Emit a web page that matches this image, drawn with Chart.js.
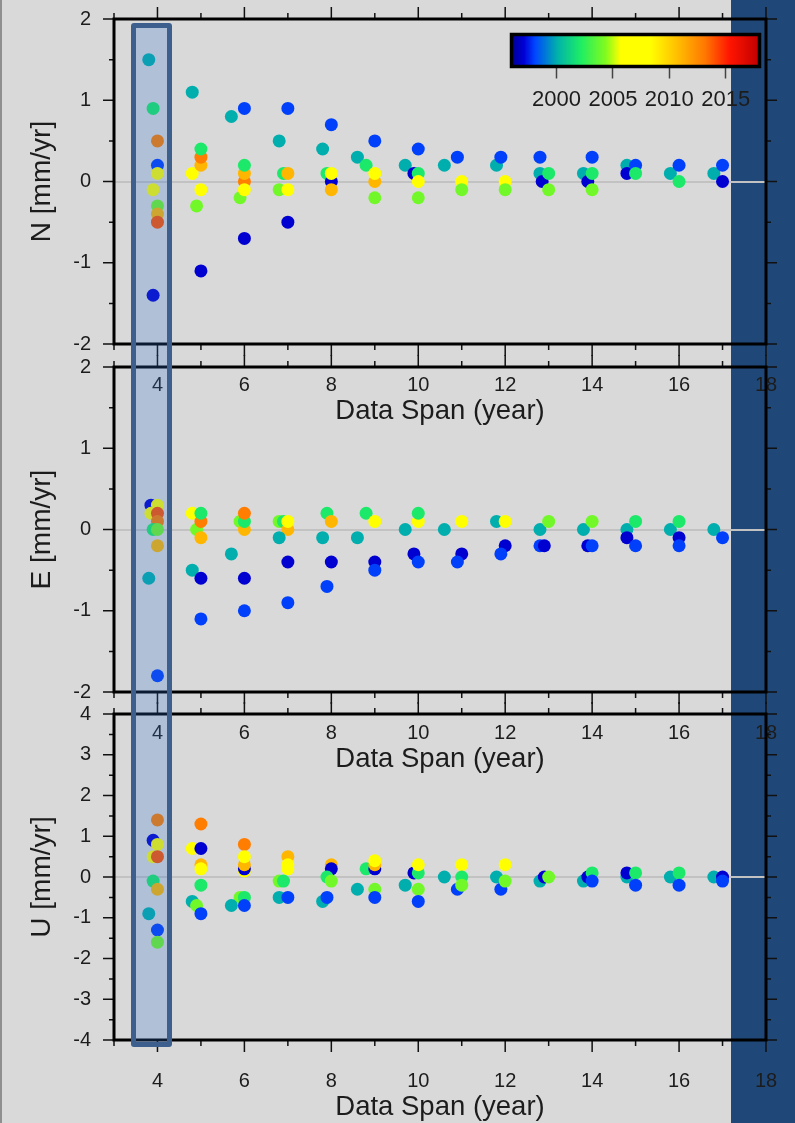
<!DOCTYPE html>
<html>
<head>
<meta charset="utf-8">
<script src="https://cdn.jsdelivr.net/npm/chart.js@4.4.1/dist/chart.umd.min.js"></script>
<style>
  html, body { margin: 0; padding: 0; }
  body { width: 795px; height: 1123px; background: #d9d9d9; position: relative; overflow: hidden; }
  canvas { position: absolute; left: 0; }
  #edge { position: absolute; left: 0; top: 0; width: 2px; height: 1123px; background: #8f8f8f; }
  #band { position: absolute; left: 731px; top: 0; width: 64px; height: 1123px; background: #1f4878; }
  #win { position: absolute; left: 131px; top: 23px; width: 41px; height: 1024px; box-sizing: border-box;
         border: 5px solid #3c5f8e; border-radius: 3px; background: rgba(44, 111, 204, 0.24); }
</style>
</head>
<body>
<div id="edge"></div>
<div id="band"></div>
<canvas id="cN" width="795" height="428" style="top:0px"></canvas>
<canvas id="cE" width="795" height="426" style="top:350px"></canvas>
<canvas id="cU" width="795" height="424" style="top:700px"></canvas>
<canvas id="cBar" width="315" height="100" style="left:480px;top:20px"></canvas>
<div id="win"></div>

<script>
// x axis (data span, years)
const xTicks = [4, 6, 8, 10, 12, 14, 16, 18];
const nTicks = [-2, -1, 0, 1, 2];
const uTicks = [-4, -3, -2, -1, 0, 1, 2, 3, 4];

// colour bar (start year)
const cbMin = 1996;
const cbMax = 2018;
const cbTicks = [2000, 2005, 2010, 2015];

// North
const nSpan = [3.8, 3.9, 4.0, 4.0, 4.0, 3.9, 4.0, 4.0, 4.0, 3.9,
  4.8, 4.8, 4.9, 5.0, 5.0, 5.0, 5.0, 5.0,
  5.7, 5.9, 6.0, 6.0, 6.0, 6.0, 6.0, 6.0,
  6.8, 6.8, 6.9, 7.0, 7.0, 7.0, 7.0,
  7.8, 7.9, 8.0, 8.0, 8.0, 8.0,
  8.6, 8.8, 9.0, 9.0, 9.0, 9.0,
  9.7, 9.9, 10.0, 10.0, 10.0, 10.0,
  10.6, 10.9, 11.0, 11.0,
  11.8, 11.9, 12.0, 12.0,
  12.8, 12.8, 12.85, 13.0, 13.0,
  13.8, 13.9, 14.0, 14.0, 14.0,
  14.8, 14.8, 15.0, 15.0,
  15.8, 16.0, 16.0,
  16.8, 17.0, 17.0];
const nRate = [1.5, 0.9, 0.5, 0.2, 0.1, -0.1, -0.3, -0.4, -0.5, -1.4,
  1.1, 0.1, -0.3, 0.2, 0.3, 0.4, -0.1, -1.1,
  0.8, -0.2, 0.9, 0.0, 0.1, 0.2, -0.1, -0.7,
  0.5, -0.1, 0.1, 0.9, 0.1, -0.1, -0.5,
  0.4, 0.1, 0.7, 0.0, 0.1, -0.1,
  0.3, 0.2, 0.5, 0.0, 0.1, -0.2,
  0.2, 0.1, 0.4, 0.1, 0.0, -0.2,
  0.2, 0.3, 0.0, -0.1,
  0.2, 0.3, 0.0, -0.1,
  0.3, 0.1, 0.0, 0.1, -0.1,
  0.1, 0.0, 0.3, 0.1, -0.1,
  0.2, 0.1, 0.2, 0.1,
  0.1, 0.2, 0.0,
  0.1, 0.2, 0.0];
const nYear = [2000, 2002, 2013, 1998, 2007, 2007, 2004, 2011, 2014, 1997,
  2000, 2007, 2004, 2011, 2013, 2002, 2007, 1997,
  2000, 2004, 1998, 2013, 2011, 2002, 2007, 1997,
  2000, 2004, 2002, 1998, 2011, 2007, 1997,
  2000, 2002, 1998, 1997, 2007, 2011,
  2000, 2002, 1998, 2011, 2007, 2004,
  2000, 1997, 1998, 2002, 2007, 2004,
  2000, 1998, 2007, 2004,
  2000, 1998, 2007, 2004,
  1998, 2000, 1997, 2002, 2004,
  2000, 1997, 1998, 2002, 2004,
  2000, 1997, 1998, 2002,
  2000, 1998, 2002,
  2000, 1998, 1997];

// East
const eSpan = [3.85, 3.85, 4.0, 4.0, 4.0, 3.9, 4.0, 4.0, 3.8, 4.0,
  4.8, 4.9, 5.0, 5.0, 5.0, 4.8, 5.0, 5.0,
  5.7, 5.9, 6.0, 6.0, 6.0, 6.0, 6.0,
  6.8, 6.9, 7.0, 7.0, 6.8, 7.0, 7.0,
  7.9, 8.0, 7.8, 8.0, 7.9,
  8.6, 8.8, 9.0, 9.0, 9.0,
  9.7, 9.9, 10.0, 10.0, 10.0,
  10.6, 11.0, 11.0, 10.9,
  11.8, 12.0, 12.0, 11.9,
  12.8, 13.0, 12.8, 12.9,
  13.8, 14.0, 13.9, 14.0,
  14.8, 15.0, 14.8, 15.0,
  15.8, 16.0, 16.0, 16.0,
  16.8, 17.0];
const eRate = [0.3, 0.2, 0.3, 0.2, 0.1, 0.0, 0.0, -0.2, -0.6, -1.8,
  0.2, 0.0, 0.1, 0.2, -0.1, -0.5, -0.6, -1.1,
  -0.3, 0.1, 0.0, 0.1, 0.2, -0.6, -1.0,
  0.1, 0.1, 0.0, 0.1, -0.1, -0.4, -0.9,
  0.2, 0.1, -0.1, -0.4, -0.7,
  -0.1, 0.2, 0.1, -0.4, -0.5,
  0.0, -0.3, -0.4, 0.1, 0.2,
  0.0, 0.1, -0.3, -0.4,
  0.1, 0.1, -0.2, -0.3,
  0.0, 0.1, -0.2, -0.2,
  0.0, 0.1, -0.2, -0.2,
  0.0, 0.1, -0.1, -0.2,
  0.0, 0.1, -0.1, -0.2,
  0.0, -0.1];
const eYear = [1997, 2007, 2007, 2014, 2013, 2002, 2004, 2011, 2000, 1998,
  2007, 2004, 2013, 2002, 2011, 2000, 1997, 1998,
  2000, 2004, 2011, 2002, 2013, 1997, 1998,
  2004, 2002, 2011, 2007, 2000, 1997, 1998,
  2002, 2011, 2000, 1997, 1998,
  2000, 2002, 2007, 1997, 1998,
  2000, 1997, 1998, 2007, 2002,
  2000, 2007, 1997, 1998,
  2000, 2007, 1997, 1998,
  2000, 2004, 1998, 1997,
  2000, 2004, 1997, 1998,
  2000, 2002, 1997, 1998,
  2000, 2002, 1997, 1998,
  2000, 1998];

// Up
const uSpan = [4.0, 3.9, 4.0, 3.9, 4.0, 3.9, 4.0, 3.8, 4.0, 4.0,
  5.0, 4.8, 5.0, 5.0, 5.0, 5.0, 4.8, 4.9, 5.0,
  6.0, 6.0, 6.0, 6.0, 6.0, 5.9, 6.0, 5.7, 6.0,
  7.0, 7.0, 7.0, 6.8, 6.9, 6.8, 7.0,
  8.0, 8.0, 7.9, 8.0, 7.8, 7.9,
  8.6, 8.8, 9.0, 9.0, 9.0, 9.0, 9.0,
  9.7, 9.9, 10.0, 10.0, 10.0, 10.0,
  10.6, 11.0, 11.0, 10.9, 11.0,
  11.8, 12.0, 11.9, 12.0,
  12.8, 12.9, 13.0,
  13.8, 13.9, 14.0, 14.0,
  14.8, 14.8, 15.0, 15.0,
  15.8, 16.0, 16.0,
  16.8, 17.0, 17.0];
const uRate = [1.4, 0.9, 0.8, 0.5, 0.5, -0.1, -0.3, -0.9, -1.3, -1.6,
  1.3, 0.7, 0.7, 0.3, 0.2, -0.2, -0.6, -0.7, -0.9,
  0.8, 0.15, 0.2, 0.3, 0.5, -0.5, -0.5, -0.7, -0.7,
  0.5, 0.3, 0.2, -0.1, -0.1, -0.5, -0.5,
  0.3, 0.2, 0.0, -0.1, -0.6, -0.5,
  -0.3, 0.2, 0.2, 0.3, 0.4, -0.3, -0.5,
  -0.2, 0.1, 0.1, 0.3, -0.3, -0.6,
  0.0, 0.3, 0.0, -0.3, -0.2,
  0.0, 0.3, -0.3, -0.1,
  -0.1, 0.0, 0.0,
  -0.1, 0.0, 0.1, -0.1,
  0.0, 0.1, 0.1, -0.2,
  0.0, 0.1, -0.2,
  0.0, 0.0, -0.1];
const uYear = [2013, 1997, 2007, 2007, 2014, 2002, 2011, 2000, 1998, 2004,
  2013, 2007, 1997, 2011, 2007, 2002, 2000, 2004, 1998,
  2013, 2007, 1997, 2011, 2007, 2004, 2002, 2000, 1998,
  2011, 2007, 2007, 2004, 2002, 2000, 1998,
  2011, 1997, 2002, 2004, 2000, 1998,
  2000, 2002, 1997, 2011, 2007, 2004, 1998,
  2000, 1997, 2002, 2007, 2004, 1998,
  2000, 2007, 2002, 1998, 2004,
  2000, 2007, 1998, 2004,
  2000, 1997, 2004,
  2000, 1997, 2002, 1998,
  2000, 1997, 2002, 1998,
  2000, 2002, 1998,
  2000, 1997, 1998];

// jet-like colour ramp used by the colour bar
const jetStops = [
  [0.00, [0, 0, 150]], [0.05, [0, 0, 215]], [0.095, [0, 70, 255]],
  [0.185, [0, 178, 170]], [0.28, [30, 238, 100]], [0.38, [130, 250, 30]],
  [0.44, [255, 255, 0]], [0.56, [255, 255, 0]], [0.67, [255, 190, 0]],
  [0.78, [255, 120, 0]], [0.88, [255, 20, 0]], [1.00, [190, 0, 0]]
];

function rampColor(f) {
  f = Math.max(0, Math.min(1, f));
  for (let i = 1; i < jetStops.length; i++) {
    const [p1, c1] = jetStops[i];
    const [p0, c0] = jetStops[i - 1];
    if (f <= p1) {
      const t = (f - p0) / (p1 - p0);
      const c = c0.map((v, k) => Math.round(v + (c1[k] - v) * t));
      return `rgb(${c[0]},${c[1]},${c[2]})`;
    }
  }
  return 'rgb(190,0,0)';
}
const yearColor = y => rampColor((y - cbMin) / (cbMax - cbMin));

Chart.defaults.font.family = '"Liberation Sans", Arial, Helvetica, sans-serif';
Chart.defaults.color = '#1c1c1c';

// stop label half-heights / paddings from pushing the plot area around
function noPad(s) {
  s.paddingTop = 0; s.paddingBottom = 0; s.paddingLeft = 0; s.paddingRight = 0;
}

// frame + outward ticks like the GMT plots
const framePlugin = {
  id: 'frame',
  afterDraw(chart) {
    const { ctx, chartArea: a, scales } = chart;
    const yS = scales.y, xS = scales.x;
    ctx.save();
    ctx.strokeStyle = '#111';
    ctx.lineWidth = 1.5;
    ctx.beginPath();
    for (let v = yS.min; v <= yS.max + 1e-9; v += 0.5) {
      const py = yS.getPixelForValue(v);
      const len = Math.abs(v - Math.round(v)) < 1e-6 ? 11 : 5;
      ctx.moveTo(a.left, py); ctx.lineTo(a.left - len, py);
      ctx.moveTo(a.right, py); ctx.lineTo(a.right + len, py);
    }
    for (let v = xS.min; v <= xS.max + 1e-9; v += 1) {
      const px = xS.getPixelForValue(v);
      const len = v % 2 === 0 ? 12 : 6;
      ctx.moveTo(px, a.top); ctx.lineTo(px, a.top - len);
      ctx.moveTo(px, a.bottom); ctx.lineTo(px, a.bottom + len);
    }
    ctx.stroke();
    ctx.lineWidth = 3;
    ctx.strokeStyle = '#000';
    ctx.strokeRect(a.left, a.top, a.right - a.left, a.bottom - a.top);
    ctx.restore();
  }
};

function makePanel(id, canvasTop, areaTop, span, rate, year, yMin, yMax, yTicks, yTitle) {
  return new Chart(document.getElementById(id), {
    type: 'scatter',
    data: {
      datasets: [{
        data: span.map((s, i) => ({ x: s, y: rate[i] })),
        pointBackgroundColor: year.map(yearColor),
        pointBorderWidth: 0,
        pointRadius: 6.5,
        pointHoverRadius: 6.5
      }]
    },
    options: {
      responsive: false,
      animation: false,
      events: [],
      layout: { padding: { left: 0, right: 29, top: areaTop - canvasTop, bottom: 0 } },
      plugins: { legend: { display: false }, tooltip: { enabled: false } },
      scales: {
        x: {
          type: 'linear', min: 3, max: 18,
          afterBuildTicks: s => { s.ticks = xTicks.map(v => ({ value: v })); },
          afterFit: s => { s.height = 84; noPad(s); },
          grid: { display: false },
          border: { display: false },
          ticks: { padding: 21.5, font: { size: 20 } },
          title: { display: true, text: 'Data Span (year)', font: { size: 27.5 }, padding: { top: 0, bottom: 0 } }
        },
        y: {
          type: 'linear', min: yMin, max: yMax,
          afterBuildTicks: s => { s.ticks = yTicks.map(v => ({ value: v })); },
          afterFit: s => { s.width = 114; noPad(s); },
          grid: {
            drawTicks: false,
            lineWidth: 2,
            color: c => (c.tick && c.tick.value === 0 ? '#c2c2c2' : 'rgba(0,0,0,0)')
          },
          border: { display: false },
          ticks: { padding: 23, font: { size: 20 } },
          title: { display: true, text: yTitle, font: { size: 28 }, padding: { top: 25, bottom: 0 } }
        }
      }
    },
    plugins: [framePlugin]
  });
}

makePanel('cN', 0, 19, nSpan, nRate, nYear, -2, 2, nTicks, 'N [mm/yr]');
makePanel('cE', 350, 367, eSpan, eRate, eYear, -2, 2, nTicks, 'E [mm/yr]');
makePanel('cU', 700, 714, uSpan, uRate, uYear, -4, 4, uTicks, 'U [mm/yr]');

// colour bar drawn on its own year axis
const barPlugin = {
  id: 'bar',
  beforeDraw(chart) {
    const { ctx, chartArea: a } = chart;
    const g = ctx.createLinearGradient(a.left, 0, a.right, 0);
    jetStops.forEach(([p, c]) => g.addColorStop(p, `rgb(${c[0]},${c[1]},${c[2]})`));
    ctx.save();
    ctx.fillStyle = g;
    ctx.fillRect(a.left, a.top, a.right - a.left, a.bottom - a.top);
    ctx.restore();
  },
  afterDraw(chart) {
    const { ctx, chartArea: a } = chart;
    ctx.save();
    ctx.lineWidth = 3.5;
    ctx.strokeStyle = '#000';
    ctx.strokeRect(a.left, a.top, a.right - a.left, a.bottom - a.top);
    ctx.restore();
  }
};

new Chart(document.getElementById('cBar'), {
  type: 'scatter',
  data: { datasets: [{ data: [] }] },
  options: {
    responsive: false,
    animation: false,
    events: [],
    layout: { padding: { left: 31.5, right: 35.5, top: 14.5, bottom: 0 } },
    plugins: { legend: { display: false }, tooltip: { enabled: false } },
    scales: {
      x: {
        type: 'linear', min: cbMin, max: cbMax,
        afterBuildTicks: s => { s.ticks = cbTicks.map(v => ({ value: v })); },
        afterFit: s => { s.height = 53.5; noPad(s); },
        grid: { drawOnChartArea: false, drawTicks: true, tickLength: 12, tickColor: '#444', tickWidth: 1.5 },
        border: { display: false },
        ticks: { padding: 8, font: { size: 22 }, callback: v => String(v) }
      },
      y: { display: false, min: 0, max: 1 }
    }
  },
  plugins: [barPlugin]
});
</script>
</body>
</html>
